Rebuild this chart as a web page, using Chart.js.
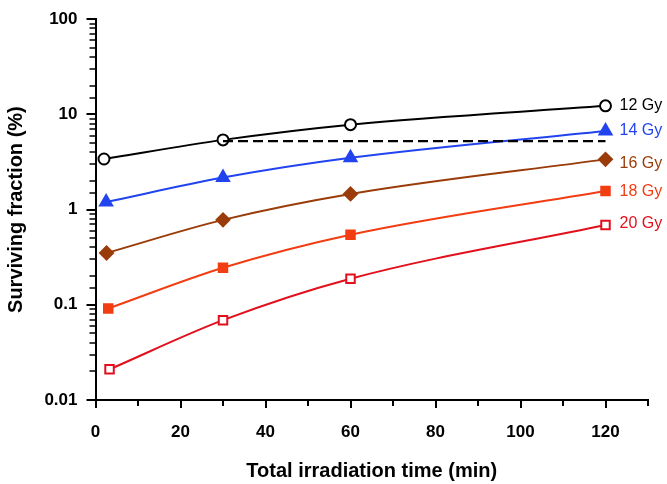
<!DOCTYPE html>
<html>
<head>
<meta charset="utf-8">
<script src="https://cdn.jsdelivr.net/npm/chart.js@4.4.0/dist/chart.umd.min.js"></script>
<style>
html,body{margin:0;padding:0;background:#fff;}
#wrap{width:667px;height:484px;}
</style>
</head>
<body>
<div id="wrap"><canvas id="c" width="667" height="484"></canvas></div>
<script>
// ---- data ----
const seriesNames = ['12 Gy', '14 Gy', '16 Gy', '18 Gy', '20 Gy'];
const times12 = [2.0, 30, 60, 120];
const times14 = [2.5, 30, 60, 120];
const times16 = [2.6, 30, 60, 120];
const times18 = [3.0, 30, 60, 120];
const times20 = [3.3, 30, 60, 120];
const sf12 = [3.4, 5.4, 7.8, 12.3];
const sf14 = [1.2, 2.17, 3.5, 6.7];
const sf16 = [0.35, 0.78, 1.46, 3.37];
const sf18 = [0.0915, 0.245, 0.545, 1.57];
const sf20 = [0.021, 0.069, 0.188, 0.69];
const refTimes = [30, 120];
const refLevel = [5.24, 5.24];
const xTickLabels = [0, 20, 40, 60, 80, 100, 120];
const yTickLabels = [0.01, 0.1, 1, 10, 100];

const colors = ['#000000', '#2244ee', '#9a3c0a', '#f23c12', '#e2101c'];
const zip = (xs, ys) => xs.map((x, i) => ({x: x, y: ys[i]}));
const FONT = '"Liberation Sans", Arial, sans-serif';

const mk = (i, xs, ys, style, fill, r) => ({
  label: seriesNames[i],
  data: zip(xs, ys),
  showLine: true,
  borderColor: colors[i],
  borderWidth: 2,
  cubicInterpolationMode: 'monotone',
  pointStyle: style,
  pointRadius: r,
  pointHoverRadius: r,
  pointBorderWidth: 2,
  pointBorderColor: colors[i],
  pointBackgroundColor: fill ? colors[i] : '#ffffff',
  labelOffset: [0, 0, 4, 1, -1][i]
});

const datasets = [
  {
    label: 'ref',
    data: zip(refTimes, refLevel),
    showLine: true,
    borderColor: '#000',
    borderWidth: 2.3,
    borderDash: [10, 5],
    pointRadius: 0,
    noLabel: true
  },
  mk(0, times12, sf12, 'circle', false, 5.5),
  mk(1, times14, sf14, 'triangle', true, 7),
  mk(2, times16, sf16, 'rectRot', true, 6.5),
  mk(3, times18, sf18, 'rect', true, 6),
  mk(4, times20, sf20, 'rect', false, 6)
];

const endLabels = {
  id: 'endLabels',
  afterDatasetsDraw(chart) {
    const ctx = chart.ctx;
    ctx.save();
    ctx.font = '16px ' + FONT;
    ctx.textBaseline = 'middle';
    ctx.textAlign = 'left';
    chart.data.datasets.forEach((ds, di) => {
      if (ds.noLabel) return;
      const meta = chart.getDatasetMeta(di);
      const last = meta.data[meta.data.length - 1];
      ctx.fillStyle = ds.borderColor;
      ctx.fillText(ds.label, last.x + 14, last.y + ds.labelOffset);
    });
    ctx.restore();
  }
};

const axisTicks = {
  id: 'axisTicks',
  afterDraw(chart) {
    const ctx = chart.ctx;
    const xs = chart.scales.x, ys = chart.scales.y;
    ctx.save();
    ctx.strokeStyle = '#000';
    ys.ticks.forEach(t => {
      const p = Math.round(ys.getPixelForValue(t.value));
      const lg = Math.log10(t.value);
      const major = Math.abs(lg - Math.round(lg)) < 1e-9;
      const len = major ? 9 : 6;
      ctx.lineWidth = major ? 2 : 1.5;
      ctx.beginPath();
      ctx.moveTo(xs.left, p);
      ctx.lineTo(xs.left - len, p);
      ctx.stroke();
    });
    ctx.lineWidth = 2;
    xs.ticks.forEach(t => {
      const p = Math.round(xs.getPixelForValue(t.value));
      const len = (t.value % 20 === 0) ? 8 : 6;
      ctx.beginPath();
      ctx.moveTo(p, ys.bottom);
      ctx.lineTo(p, ys.bottom + len);
      ctx.stroke();
    });
    ctx.restore();
  }
};

new Chart(document.getElementById('c'), {
  type: 'scatter',
  data: { datasets: datasets },
  options: {
    responsive: false,
    animation: false,
    events: [],
    layout: { padding: { top: 16, right: 19, left: 0, bottom: 0 } },
    plugins: { legend: { display: false }, tooltip: { enabled: false } },
    scales: {
      x: {
        type: 'linear',
        min: 0,
        max: 130,
        grid: { display: false, drawTicks: true, tickLength: 8 },
        border: { display: true, color: '#000', width: 2 },
        ticks: {
          stepSize: 10,
          color: '#000',
          padding: 14,
          maxRotation: 0,
          font: { family: FONT, size: 17, weight: 'bold' },
          callback: (v) => xTickLabels.includes(v) ? String(v) : ''
        },
        title: {
          display: true,
          text: 'Total irradiation time (min)',
          color: '#000',
          padding: { top: 10, bottom: 1 },
          font: { family: FONT, size: 20, weight: 'bold' }
        },
        afterFit: (s) => { s.height = 84; }
      },
      y: {
        type: 'logarithmic',
        min: 0.01,
        max: 100,
        grid: { display: false, drawTicks: true, tickLength: 9 },
        border: { display: true, color: '#000', width: 2 },
        ticks: {
          color: '#000',
          padding: 9,
          autoSkip: false,
          font: { family: FONT, size: 17, weight: 'bold' },
          callback: (v) => {
            const m = yTickLabels.find(t => Math.abs(t - v) / t < 1e-6);
            return m !== undefined ? String(m) : '';
          }
        },
        title: {
          display: true,
          text: 'Surviving fraction (%)',
          color: '#000',
          padding: { top: 4, bottom: 0 },
          font: { family: FONT, size: 20, weight: 'bold' }
        },
        afterFit: (s) => { s.width = 95.5; }
      }
    }
  },
  plugins: [endLabels, axisTicks]
});
</script>
</body>
</html>
